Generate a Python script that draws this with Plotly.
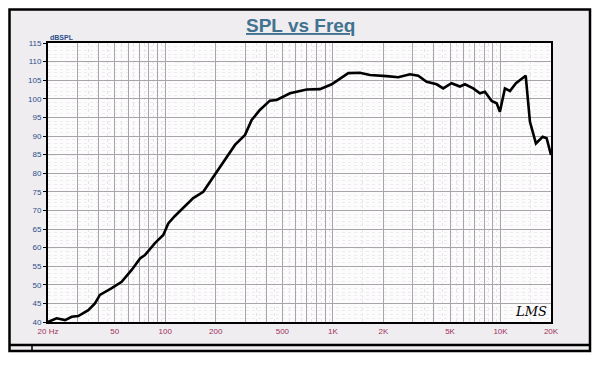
import plotly.graph_objects as go

freq_hz = [20, 22.5, 25.3, 27.7, 30.3, 34.8, 38.1, 40.8, 48.0, 55.0, 63.1, 70.8, 75.7, 86.9,
           97.4, 104.3, 114.3, 147, 168.7, 193.6, 232.8, 260.8, 299.2, 328, 367, 421, 462,
           555, 698, 838, 984, 1102, 1236, 1450, 1664, 2094, 2456, 2884, 3230, 3624, 4160,
           4550, 5103, 5724, 6134, 6872, 7535, 8072, 8850, 9484, 9914, 10620, 11380, 12360,
           13370, 14130, 14980, 16260, 17830, 18840, 20000]
spl_db = [40.0, 41.0, 40.5, 41.4, 41.6, 43.2, 45.0, 47.3, 49.1, 50.8, 54.0, 57.1, 58.0, 61.2,
          63.4, 66.5, 68.5, 73.3, 75.0, 79.1, 84.4, 87.6, 90.3, 94.3, 97.0, 99.5, 99.7,
          101.5, 102.5, 102.6, 103.9, 105.5, 106.9, 107.0, 106.4, 106.1, 105.8, 106.6, 106.2, 104.6, 103.9,
          102.8, 104.2, 103.3, 103.9, 102.8, 101.5, 101.9, 99.4, 98.8, 96.5, 102.8, 102.1, 104.2,
          105.3, 106.2, 93.8, 88.0, 89.8, 89.4, 84.9]

x_grid_vals = [m * d for d in (10, 100, 1000, 10000) for m in range(1, 10)]
x_grid_vals = [v for v in x_grid_vals if 20 <= v <= 20000]
x_label_map = {20: "20 Hz", 50: "50", 100: "100", 200: "200", 500: "500", 1000: "1K",
               2000: "2K", 5000: "5K", 10000: "10K", 20000: "20K"}
x_tick_text = [x_label_map.get(v, "") for v in x_grid_vals]
x_minor_vals = [v * 1.5 for v in x_grid_vals if v * 1.5 < 20000 and str(v)[0] in "12"] + \
               [v + (v // int(str(v)[0])) / 2 for v in x_grid_vals if str(v)[0] in "3456789" and v < 20000]

y_ticks = list(range(40, 116, 5))

fig = go.Figure()
fig.add_trace(go.Scatter(x=freq_hz, y=spl_db, mode="lines",
                         line=dict(color="black", width=2.6), hoverinfo="skip"))

# page body has an 8px margin: work in page pixels and shift by OFF
OFF = 8
W, H = 600 - OFF, 384 - OFF
L, R, T, B = 48 - OFF, 551 - OFF, 43 - OFF, 322 - OFF
pw, ph = R - L, B - T
def px(x): return (x - OFF - L) / pw
def py(y): return (B - (y - OFF)) / ph

shapes = [
    dict(type="rect", xref="paper", yref="paper", x0=(1.5 - L) / pw, x1=px(590), y0=py(351),
         y1=(B - 1.5) / ph,
         fillcolor="#efedf0", line=dict(color="black", width=2.5), layer="below"),
    dict(type="rect", xref="paper", yref="paper", x0=0, x1=1, y0=0, y1=1,
         fillcolor="#fdfcfd", line=dict(width=0), layer="below"),
    dict(type="line", xref="paper", yref="paper", x0=(1.5 - L) / pw, x1=px(590), y0=py(345), y1=py(345),
         line=dict(color="black", width=2.5)),
    dict(type="line", xref="paper", yref="paper", x0=px(32), x1=px(32), y0=py(345), y1=py(351),
         line=dict(color="black", width=1.5)),
]
for yv in (60, 85, 110):
    shapes.append(dict(type="line", xref="paper", yref="y", x0=0, x1=1, y0=yv, y1=yv,
                       line=dict(color="#9a9a9a", width=1, dash="dash"), layer="below"))
fig.update_layout(shapes=shapes)

fig.update_layout(
    width=W, height=H,
    margin=dict(l=L, r=W - R, t=T, b=H - B, pad=0),
    paper_bgcolor="white", plot_bgcolor="#fdfcfd",
    showlegend=False,
    font=dict(family="Liberation Sans, Arial, sans-serif"),
    xaxis=dict(type="log", range=[1.30103, 4.30103],
               tickvals=x_grid_vals, ticktext=x_tick_text,
               tickfont=dict(size=8, color="#a0305c"),
               showgrid=True, gridcolor="#a9a3aa", gridwidth=1,
               ticks="", showline=True, linecolor="black", linewidth=2, mirror=True,
               minor=dict(tickvals=x_minor_vals, showgrid=True, gridcolor="#e8e3e9",
                          griddash="dot", ticks=""),
               zeroline=False, fixedrange=True, automargin=False),
    yaxis=dict(range=[40, 115], tickvals=y_ticks, ticktext=[str(v) for v in y_ticks],
               tickfont=dict(size=8, color="#2b4e8c"),
               showgrid=True, gridcolor="#a9a3aa", gridwidth=1,
               ticks="outside", ticklen=3, tickcolor="black",
               showline=True, linecolor="black", linewidth=2, mirror=True,
               minor=dict(dtick=1, showgrid=True, gridcolor="#efeaf0", griddash="dot", ticks=""),
               zeroline=False, fixedrange=True, automargin=False),
    annotations=[
        dict(text="<b><u>SPL vs Freq</u></b>", xref="paper", yref="paper",
             x=px(300), y=py(25), xanchor="center", yanchor="middle", showarrow=False,
             font=dict(size=19, color="#41728f", family="Liberation Sans, Arial, sans-serif")),
        dict(text="<b>dBSPL</b>", xref="paper", yref="paper", x=px(48), y=py(38),
             xanchor="left", yanchor="middle", showarrow=False,
             font=dict(size=7, color="#2b4e8c")),
        dict(text="<i>LMS</i>", xref="paper", yref="paper", x=px(531), y=py(311),
             xanchor="center", yanchor="middle", showarrow=False,
             font=dict(size=13, color="black", family="DejaVu Serif, serif")),
    ],
)

fig.write_html("out.html")
